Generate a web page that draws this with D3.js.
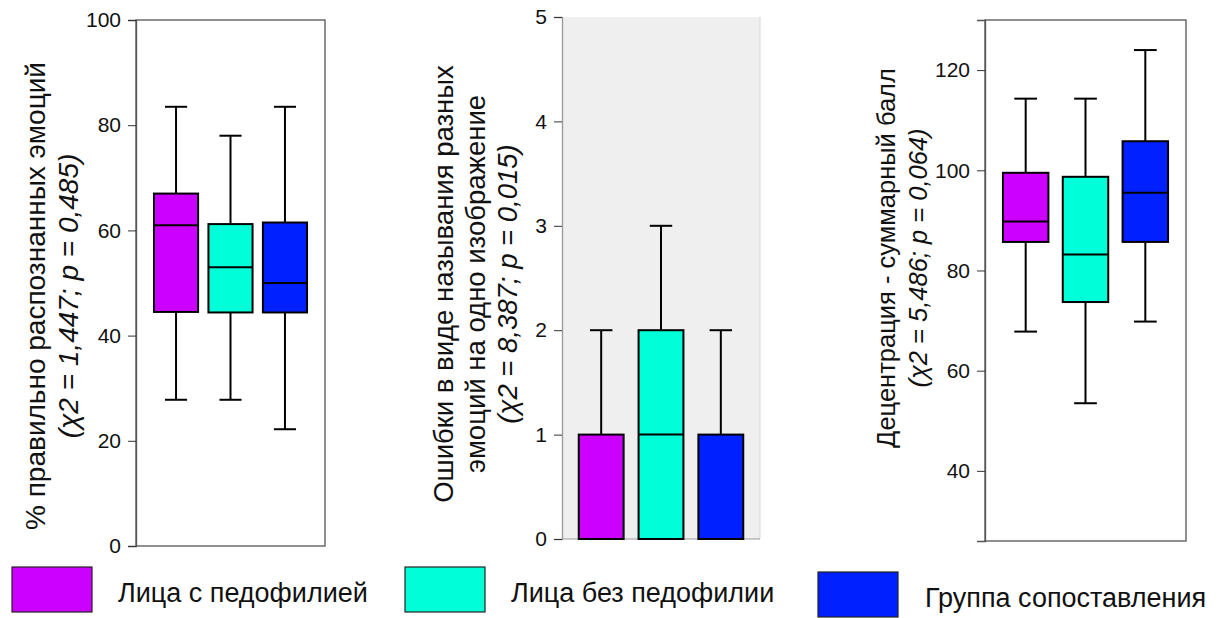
<!DOCTYPE html>
<html>
<head>
<meta charset="utf-8">
<script src="https://cdn.jsdelivr.net/npm/d3@7"></script>
<style>
  body { margin: 0; background: #fff; }
  svg { font-family: "Liberation Sans", Arial, sans-serif; }
  .tick text { font-size: 21px; fill: #111; }
  .tick line { stroke: #333; }
</style>
</head>
<body>
<svg id="chart" width="1221" height="618"></svg>
<script>
// groups and colours
const groups = ["Лица с педофилией", "Лица без педофилии", "Группа сопоставления"];
const groupColors = ["#cc00ff", "#00ffd8", "#0020ff"];

// box stats per group: [whisker low, Q1, median, Q3, whisker high]
const recognizedStats = [
  [27.8, 44.5, 61.0, 67.0, 83.5],
  [27.8, 44.4, 53.0, 61.2, 78.0],
  [22.2, 44.4, 50.0, 61.5, 83.5]
];
const errorStats = [
  [0, 0, 0, 1, 2],
  [0, 0, 1, 2, 3],
  [0, 0, 0, 1, 2]
];
const decentrationStats = [
  [67.8, 85.7, 89.8, 99.5, 114.3],
  [53.5, 73.7, 83.2, 98.7, 114.3],
  [69.8, 85.7, 95.5, 105.8, 124.0]
];

// axes
const recognizedDomain = [0, 100];
const recognizedTicks = [0, 20, 40, 60, 80, 100];
const errorDomain = [0, 5];
const errorTicks = [0, 1, 2, 3, 4, 5];
const decentrationDomain = [26, 130];
const decentrationTicks = [40, 60, 80, 100, 120];

// axis titles
const recognizedTitle = ["% правильно распознанных эмоций", "(χ2 = 1,447; p = 0,485)"];
const errorTitle = ["Ошибки в виде называния разных", "эмоций на одно изображение", "(χ2 = 8,387; p = 0,015)"];
const decentrationTitle = ["Децентрация - суммарный балл", "(χ2 = 5,486; p = 0,064)"];

const svg = d3.select("#chart");

function drawPanel(p) {
  const g = svg.append("g");

  const y = d3.scaleLinear().domain(p.domain).range([p.bottom, p.top]);
  const x = d3.scaleBand().domain(groups)
      .range([p.left, p.right])
      .paddingInner(p.padIn)
      .paddingOuter(p.padOut);

  // background / frame
  if (p.shaded) {
    g.append("rect")
      .attr("x", p.left).attr("y", p.top)
      .attr("width", p.right - p.left).attr("height", p.bottom - p.top)
      .attr("fill", "#efefef");
    g.append("line")
      .attr("x1", p.right).attr("x2", p.right)
      .attr("y1", p.top).attr("y2", p.bottom)
      .attr("stroke", "#d8d8d8");
    g.append("line")
      .attr("x1", p.left).attr("x2", p.right)
      .attr("y1", p.bottom).attr("y2", p.bottom)
      .attr("stroke", "#999");
  } else {
    g.append("rect")
      .attr("x", p.left).attr("y", p.top)
      .attr("width", p.right - p.left).attr("height", p.bottom - p.top)
      .attr("fill", "none")
      .attr("stroke", "#555")
      .attr("stroke-width", 1.3);
  }

  const yAxis = d3.axisLeft(y).tickValues(p.ticks)
      .tickFormat(d3.format("d"))
      .tickSize(8).tickPadding(7);
  const gy = g.append("g")
      .attr("transform", `translate(${p.left},0)`)
      .call(yAxis);
  gy.select(".domain")
    .attr("stroke", p.shaded ? "#999" : "#555")
    .attr("stroke-width", 1.3);
  gy.selectAll(".tick line").attr("stroke", p.shaded ? "#888" : "#444");

  // boxes
  const boxes = g.selectAll(".box")
    .data(p.stats)
    .join("g")
      .attr("class", "box");

  const bw = x.bandwidth();
  const cx = (d, i) => x(groups[i]) + bw / 2;

  // whiskers
  boxes.append("line")
    .attr("x1", cx).attr("x2", cx)
    .attr("y1", d => y(d[3])).attr("y2", d => y(d[4]))
    .attr("stroke", "#000").attr("stroke-width", 2);
  boxes.append("line")
    .attr("x1", cx).attr("x2", cx)
    .attr("y1", d => y(d[0])).attr("y2", d => y(d[1]))
    .attr("stroke", "#000").attr("stroke-width", 2);
  // caps
  [0, 4].forEach(k => {
    boxes.filter(d => d[k] !== d[1] || k === 4)
      .append("line")
      .attr("x1", (d, i) => cx(d, i) - bw / 4)
      .attr("x2", (d, i) => cx(d, i) + bw / 4)
      .attr("y1", d => y(d[k])).attr("y2", d => y(d[k]))
      .attr("stroke", "#000").attr("stroke-width", 2);
  });

  boxes.append("rect")
    .attr("x", (d, i) => x(groups[i]))
    .attr("width", bw)
    .attr("y", d => y(d[3]))
    .attr("height", d => y(d[1]) - y(d[3]))
    .attr("fill", (d, i) => groupColors[i])
    .attr("stroke", "#000")
    .attr("stroke-width", 2);

  boxes.append("line")
    .attr("x1", (d, i) => x(groups[i]))
    .attr("x2", (d, i) => x(groups[i]) + bw)
    .attr("y1", d => y(d[2])).attr("y2", d => y(d[2]))
    .attr("stroke", "#000").attr("stroke-width", 2);

  // rotated axis title
  p.title.forEach((t, i) => {
    const tx = p.titleX + i * p.titleGap;
    const text = g.append("text")
      .attr("transform", `translate(${tx},${p.titleY}) rotate(-90)`)
      .attr("text-anchor", "middle")
      .attr("dominant-baseline", "central")
      .attr("font-size", p.titleSize)
      .attr("fill", "#111");
    if (t.startsWith("(")) {
      text.attr("font-style", "italic").text(t);
    } else {
      text.text(t);
    }
  });
}

drawPanel({
  stats: recognizedStats, domain: recognizedDomain, ticks: recognizedTicks,
  left: 136, right: 325, top: 20, bottom: 546, padIn: 0.19, padOut: 0.33,
  title: recognizedTitle, titleX: 35, titleGap: 33, titleY: 296, titleSize: 28
});

drawPanel({
  stats: errorStats, domain: errorDomain, ticks: errorTicks, shaded: true,
  left: 562, right: 760, top: 17, bottom: 539, padIn: 0.25, padOut: 0.28,
  title: errorTitle, titleX: 443, titleGap: 32, titleY: 284, titleSize: 27.5
});

drawPanel({
  stats: decentrationStats, domain: decentrationDomain, ticks: decentrationTicks,
  left: 985, right: 1186, top: 20, bottom: 541, padIn: 0.24, padOut: 0.3,
  title: decentrationTitle, titleX: 886, titleGap: 32, titleY: 258, titleSize: 25.5
});

// legend
const legendX = [12, 405, 818];
const legendY = [567, 567, 572];
const legend = svg.append("g")
  .selectAll("g")
  .data(groups)
  .join("g")
    .attr("transform", (d, i) => `translate(${legendX[i]},${legendY[i]})`);

legend.append("rect")
  .attr("width", 80).attr("height", 45)
  .attr("fill", (d, i) => groupColors[i])
  .attr("stroke", "#222").attr("stroke-width", 1.2);

legend.append("text")
  .attr("x", (d, i) => i === 2 ? 107 : 106)
  .attr("y", 35)
  .attr("font-size", 27)
  .attr("fill", "#111")
  .text(d => d);
</script>
</body>
</html>
